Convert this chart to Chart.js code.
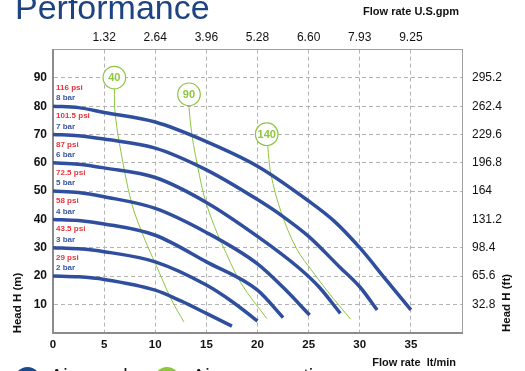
<!DOCTYPE html>
<html>
<head>
<meta charset="utf-8">
<script src="https://cdn.jsdelivr.net/npm/chart.js@4.4.1/dist/chart.umd.min.js"></script>
<style>
  html, body { margin: 0; padding: 0; background: #fff; overflow: hidden; }
  #wrap { position: relative; width: 525px; height: 371px; }
</style>
</head>
<body>
<div id="wrap"><canvas id="perfChart" width="525" height="371"></canvas></div>
<script>
// Pump curves: flow rate (lt/min) against head (m), one curve per supply pressure
const bar2Flow = [0, 2.5, 5, 10, 12.5, 15, 17.5];
const bar2Head = [20, 19.7, 18.8, 15, 11.2, 6.8, 2.3];
const bar3Flow = [0, 2.5, 5, 10, 15, 17.5, 20];
const bar3Head = [30, 29.6, 28.6, 25, 16.8, 11, 4.1];
const bar4Flow = [0, 2.5, 5, 10, 15, 20, 22.5];
const bar4Head = [40, 39.6, 38.4, 34.4, 25, 15, 5.3];
const bar5Flow = [0, 2.5, 5, 10, 15, 20, 22.5, 25.1];
const bar5Head = [50, 49.5, 48, 43.9, 35.4, 24.3, 16, 6.2];
const bar6Flow = [0, 2.5, 5, 10, 15, 20, 24, 26, 28.1];
const bar6Head = [60, 59.5, 58.2, 54.8, 46, 34, 23, 16.2, 6.8];
const bar7Flow = [0, 2.5, 5, 10, 15, 20, 22.5, 25, 28, 30, 31.7];
const bar7Head = [70, 69.6, 68.4, 65.2, 57.5, 47, 41, 34, 23.3, 16.2, 8];
const bar8Flow = [0, 2.5, 5, 10, 15, 20, 25, 27.5, 30, 32.5, 35];
const bar8Head = [80, 79.5, 77.8, 74.4, 67.5, 58.8, 46.5, 39.4, 30, 19, 8];

const barLabels = ['2 bar', '3 bar', '4 bar', '5 bar', '6 bar', '7 bar', '8 bar'];
const psiLabels = ['29 psi', '43.5 psi', '58 psi', '72.5 psi', '87 psi', '101.5 psi', '116 psi'];

// Air consumption lines (first point = label bubble)
const air40Flow = [6.0, 6.0, 6.05, 6.5, 7.7, 9.0, 10, 11.6, 12.8];
const air40Head = [90.1, 86, 78.5, 66.8, 45.6, 32.7, 24.5, 11.5, 3.8];
const air90Flow = [13.3, 13.3, 13.6, 13.9, 14.8, 15.8, 16.5, 18.4, 20.9];
const air90Head = [84.2, 79.5, 69.6, 63.3, 48, 37.4, 31.5, 17.4, 5];
const air140Flow = [20.9, 21.0, 21.3, 22.3, 23.8, 25.4, 27.4, 29.1];
const air140Head = [70.1, 66.2, 56.2, 42.7, 29.8, 21.5, 12.1, 4.8];
const airLabels = ['40', '90', '140'];

// secondary axis labels
const gpmLabels = ['1.32', '2.64', '3.96', '5.28', '6.60', '7.93', '9.25'];
const feetLabels = ['32.8', '65.6', '98.4', '131.2', '164', '196.8', '229.6', '262.4', '295.2'];

const pressureFlows = [bar2Flow, bar3Flow, bar4Flow, bar5Flow, bar6Flow, bar7Flow, bar8Flow];
const pressureHeads = [bar2Head, bar3Head, bar4Head, bar5Head, bar6Head, bar7Head, bar8Head];
const airFlows = [air40Flow, air90Flow, air140Flow];
const airHeads = [air40Head, air90Head, air140Head];

const fontFamily = '"Liberation Sans", Arial, Helvetica, sans-serif';
const blue = '#2f4e9e';
const green = '#8dc63f';

const toPoints = (xs, ys) => xs.map((x, i) => ({ x: x, y: ys[i] }));

const blueSets = pressureFlows.map((xs, i) => ({
    label: barLabels[i],
    data: toPoints(xs, pressureHeads[i]),
    showLine: true,
    borderColor: blue,
    borderWidth: 3.5,
    pointRadius: 0,
    cubicInterpolationMode: 'monotone',
    order: 0
}));

const greenSets = airFlows.map((xs, i) => ({
    label: airLabels[i],
    data: toPoints(xs, airHeads[i]),
    showLine: true,
    borderColor: green,
    borderWidth: 1,
    tension: 0.35,
    pointRadius: xs.map((_, j) => j === 0 ? 11.3 : 0),
    pointBackgroundColor: '#fff',
    pointBorderColor: green,
    pointBorderWidth: 1.2,
    order: 1
}));

// hide grid lines that sit on the plot border
const gridColor = (c) => {
    const v = c.tick ? c.tick.value : null;
    return (v === 0 || v === 40 || v === 100) ? 'rgba(0,0,0,0)' : '#b3b3b3';
};

const textPlugin = {
    id: 'textPlugin',
    afterDatasetsDraw(chart) {
        const { ctx, scales: { x, y } } = chart;
        ctx.save();
        // bubble labels
        ctx.font = `bold 11px ${fontFamily}`;
        ctx.fillStyle = green;
        ctx.textAlign = 'center';
        ctx.textBaseline = 'middle';
        greenSets.forEach((ds, k) => {
            const meta = chart.getDatasetMeta(blueSets.length + k);
            const pt = meta.data[0];
            ctx.fillText(airLabels[k], pt.x, pt.y + 0.5);
        });
        // pressure labels above each curve start
        ctx.textAlign = 'left';
        ctx.font = `bold 8px ${fontFamily}`;
        pressureHeads.forEach((heads, i) => {
            const px = x.getPixelForValue(pressureFlows[i][0]) + 3;
            const py = y.getPixelForValue(heads[0]);
            ctx.fillStyle = '#3a56a6';
            ctx.fillText(barLabels[i], px, py - 8);
            ctx.fillStyle = '#e8343b';
            ctx.fillText(psiLabels[i], px, py - 18.5);
        });
        ctx.restore();
    },
    afterDraw(chart) {
        const ctx = chart.ctx;
        ctx.save();
        ctx.fillStyle = '#1d4380';
        ctx.font = `34px ${fontFamily}`;
        ctx.textAlign = 'left';
        ctx.textBaseline = 'alphabetic';
        ctx.fillText('Performance', 15, 19);

        ctx.fillStyle = '#111';
        ctx.font = `bold 11px ${fontFamily}`;
        ctx.textAlign = 'right';
        ctx.textBaseline = 'middle';
        ctx.fillText('Flow rate U.S.gpm', 459, 12);
        ctx.fillText('Flow rate  lt/min', 456, 363);

        ctx.font = `bold 11.5px ${fontFamily}`;
        ctx.textAlign = 'center';
        ctx.save();
        ctx.translate(17.5, 303);
        ctx.rotate(-Math.PI / 2);
        ctx.fillText('Head H (m)', 0, 0);
        ctx.restore();
        ctx.save();
        ctx.translate(507, 303);
        ctx.rotate(-Math.PI / 2);
        ctx.fillText('Head H (ft)', 0, 0);
        ctx.restore();

        // legend, cut off by the bottom edge
        ctx.fillStyle = '#1b4a8c';
        ctx.beginPath();
        ctx.arc(27.5, 380, 13, 0, Math.PI * 2);
        ctx.fill();
        ctx.fillStyle = green;
        ctx.beginPath();
        ctx.arc(167, 380, 13, 0, Math.PI * 2);
        ctx.fill();
        ctx.fillStyle = '#1a1a1a';
        ctx.font = `20px ${fontFamily}`;
        ctx.textAlign = 'left';
        ctx.textBaseline = 'alphabetic';
        ctx.fillText('Air supply', 50, 383);
        ctx.fillText('Air consumption', 192, 383);
        ctx.restore();
    }
};

const tickFont = (size, weight) => ({ family: fontFamily, size: size, weight: weight });

new Chart(document.getElementById('perfChart').getContext('2d'), {
    type: 'scatter',
    data: { datasets: [...blueSets, ...greenSets] },
    options: {
        responsive: false,
        animation: false,
        events: [],
        layout: { padding: 0 },
        plugins: {
            legend: { display: false },
            tooltip: { enabled: false }
        },
        scales: {
            x: {
                type: 'linear',
                position: 'bottom',
                min: 0,
                max: 40,
                afterFit: (s) => { s.height = 38.4; },
                ticks: {
                    stepSize: 5,
                    padding: 5,
                    color: '#111',
                    maxRotation: 0,
                    autoSkip: false,
                    font: tickFont(11.5, 'bold'),
                    callback: (v) => v >= 40 ? '' : v
                },
                grid: { color: gridColor, lineWidth: 1, drawTicks: false },
                border: { color: '#8c8c8c', width: 2, dash: [4, 3] }
            },
            x2: {
                type: 'linear',
                position: 'top',
                min: 0,
                max: 40,
                afterFit: (s) => { s.height = 49.6; },
                ticks: {
                    stepSize: 5,
                    padding: 5,
                    color: '#111',
                    maxRotation: 0,
                    autoSkip: false,
                    font: tickFont(12, 'normal'),
                    callback: (v) => (v > 0 && v < 40) ? gpmLabels[v / 5 - 1] : ''
                },
                grid: { drawOnChartArea: false, drawTicks: false },
                border: { color: '#a0a0a0', width: 1 }
            },
            y: {
                type: 'linear',
                position: 'left',
                min: 0,
                max: 100,
                afterFit: (s) => { s.width = 53; },
                ticks: {
                    stepSize: 10,
                    padding: 6,
                    color: '#111',
                    font: tickFont(12, 'bold'),
                    callback: (v) => (v > 0 && v < 100) ? v : ''
                },
                grid: { color: gridColor, lineWidth: 1, drawTicks: false },
                border: { color: '#8c8c8c', width: 2, dash: [4, 3] }
            },
            y2: {
                type: 'linear',
                position: 'right',
                min: 0,
                max: 100,
                afterFit: (s) => { s.width = 63; },
                ticks: {
                    stepSize: 10,
                    padding: 10,
                    color: '#111',
                    font: tickFont(12, 'normal'),
                    callback: (v) => (v > 0 && v < 100) ? feetLabels[v / 10 - 1] : ''
                },
                grid: { drawOnChartArea: false, drawTicks: false },
                border: { color: '#a0a0a0', width: 1 }
            }
        }
    },
    plugins: [textPlugin]
});
</script>
</body>
</html>
